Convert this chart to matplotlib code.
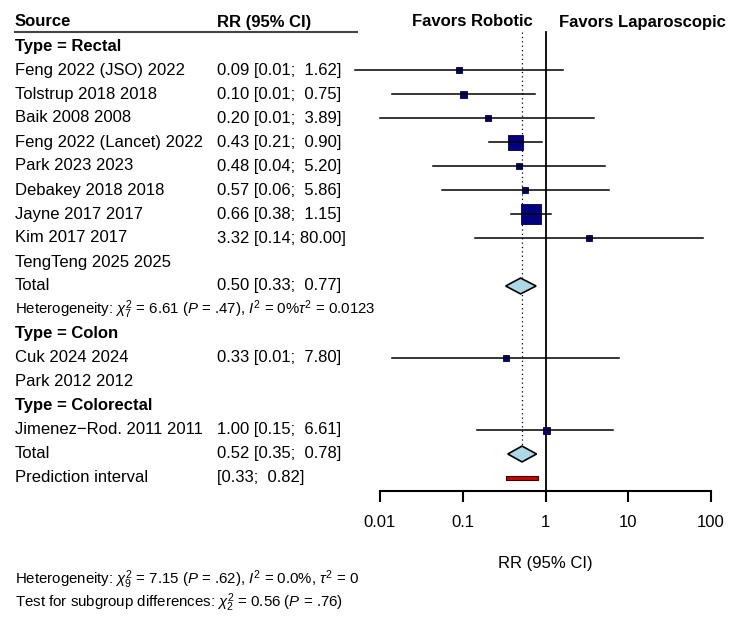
import numpy as np
import matplotlib
matplotlib.use("Agg")
import matplotlib.pyplot as plt
import matplotlib.transforms as mtransforms
from matplotlib.patches import Polygon, Rectangle

plt.rcParams['font.family'] = ['Liberation Sans', 'DejaVu Sans']
plt.rcParams['mathtext.fontset'] = 'custom'
plt.rcParams['mathtext.rm'] = 'Liberation Sans'
plt.rcParams['mathtext.it'] = 'Liberation Sans:italic'
plt.rcParams['mathtext.bf'] = 'Liberation Sans:bold'

# study data
studies = ["Feng 2022 (JSO) 2022", "Tolstrup 2018 2018", "Baik 2008 2008",
           "Feng 2022 (Lancet) 2022", "Park 2023 2023", "Debakey 2018 2018",
           "Jayne 2017 2017", "Kim 2017 2017", "TengTeng 2025 2025",
           "Cuk 2024 2024", "Park 2012 2012", "Jimenez\u2212Rod. 2011 2011"]
study_rows = [2, 3, 4, 5, 6, 7, 8, 9, 10, 14, 15, 17]
rr = [0.09, 0.10, 0.20, 0.43, 0.48, 0.57, 0.66, 3.32, np.nan, 0.33, np.nan, 1.00]
ci_lo = [0.005, 0.014, 0.010, 0.21, 0.044, 0.056, 0.38, 0.14, np.nan, 0.014, np.nan, 0.15]
ci_hi = [1.62, 0.75, 3.89, 0.90, 5.20, 5.86, 1.15, 80.0, np.nan, 7.80, np.nan, 6.61]
ci_text = ["0.09 [0.01;  1.62]", "0.10 [0.01;  0.75]", "0.20 [0.01;  3.89]",
           "0.43 [0.21;  0.90]", "0.48 [0.04;  5.20]", "0.57 [0.06;  5.86]",
           "0.66 [0.38;  1.15]", "3.32 [0.14; 80.00]", "",
           "0.33 [0.01;  7.80]", "", "1.00 [0.15;  6.61]"]
box_px = [5.5, 7, 5.5, 15, 6, 6.5, 20, 5.5, 0, 5.5, 0, 7]

# subgroup headers
groups = ["Type = Rectal", "Type = Colon", "Type = Colorectal"]
group_rows = [1, 13, 16]

# pooled estimates
pooled_labels = ["Total", "Total"]
pooled_rows = [11, 18]
pooled_est = [0.50, 0.52]
pooled_lo = [0.33, 0.35]
pooled_hi = [0.77, 0.78]
pooled_text = ["0.50 [0.33;  0.77]", "0.52 [0.35;  0.78]"]

pred_row = 19
pred_lo, pred_hi = 0.33, 0.82

xticks = [0.01, 0.1, 1, 10, 100]
xtick_labels = ["0.01", "0.1", "1", "10", "100"]

fig = plt.figure(figsize=(7.5, 6.24), dpi=100)
W, H = 750, 624
top_px, bot_px = 10, 491
ax = fig.add_axes([380 / W, 1 - bot_px / H, 331 / W, (bot_px - top_px) / H])
ax.set_xscale('log')
ax.set_xlim(0.01, 100)
ax.set_ylim((bot_px - 22) / 24, (top_px - 22) / 24)

for s in ['top', 'right', 'left']:
    ax.spines[s].set_visible(False)
ax.spines['bottom'].set_linewidth(1.5)
ax.set_yticks([])
ax.set_xticks(xticks)
ax.set_xticklabels(xtick_labels, fontsize=12)
ax.xaxis.set_minor_locator(matplotlib.ticker.NullLocator())
ax.tick_params(axis='x', direction='out', length=8, width=1.5, pad=9)
ax.set_xlabel("RR (95% CI)", fontsize=12, labelpad=19)

# reference lines
ax.plot([1, 1], [0.42, (bot_px - 22) / 24], color='black', lw=1.3, clip_on=False)
ax.plot([0.52, 0.52], [0.42, 17.65], color='black', lw=0.9, ls=(0, (1, 2.5)))

# studies
for r, y, lo, hi, b in zip(rr, study_rows, ci_lo, ci_hi, box_px):
    if np.isnan(r):
        continue
    ax.plot([r], [y], marker='s', ms=b * 0.72, color='#000080', mec='#000033',
            mew=0.6, zorder=3, clip_on=False)
    ax.plot([lo, hi], [y, y], color='black', lw=1.1, zorder=4, clip_on=False)

# pooled diamonds
for y, e, lo, hi in zip(pooled_rows, pooled_est, pooled_lo, pooled_hi):
    d = Polygon([[lo, y], [e, y - 0.33], [hi, y], [e, y + 0.33]], closed=True,
                facecolor='#ADD8E6', edgecolor='black', lw=1.2, zorder=5)
    ax.add_patch(d)

# prediction interval
ax.add_patch(Rectangle((pred_lo, pred_row - 0.09), pred_hi - pred_lo, 0.18,
                       facecolor='#CC0000', edgecolor='#330000', lw=0.8, zorder=5))

# text columns
tr = mtransforms.blended_transform_factory(fig.transFigure, ax.transData)
x1 = 15 / W
x2 = 217 / W
fs = 12
fig.text(x1, 0, "Source", transform=tr, fontsize=fs, fontweight='bold', va='center')
fig.text(x2, 0, "RR (95% CI)", transform=tr, fontsize=fs, fontweight='bold', va='center')
ax.plot([x1, 357 / W], [0.42, 0.42], transform=tr, color='#444444', lw=1.5, clip_on=False)

for g, y in zip(groups, group_rows):
    fig.text(x1, y, g, transform=tr, fontsize=fs, fontweight='bold', va='center')
for s, y, t in zip(studies, study_rows, ci_text):
    fig.text(x1, y, s, transform=tr, fontsize=fs, va='center')
    fig.text(x2, y, t, transform=tr, fontsize=fs, va='center')
for s, y, t in zip(pooled_labels, pooled_rows, pooled_text):
    fig.text(x1, y, s, transform=tr, fontsize=fs, va='center')
    fig.text(x2, y, t, transform=tr, fontsize=fs, va='center')
fig.text(x1, pred_row, "Prediction interval", transform=tr, fontsize=fs, va='center')
fig.text(x2, pred_row, "[0.33;  0.82]", transform=tr, fontsize=fs, va='center')

fig.text(x1, 12, r"Heterogeneity: $\chi^2_7$ = 6.61 ($P$ = .47), $I^2$ = 0%$\tau^2$ = 0.0123",
         transform=tr, fontsize=10.8, va='center')

# favours labels
ax.annotate("Favors Robotic", xy=(1, 0), xytext=(-9, 0), textcoords='offset points',
            ha='right', va='center', fontsize=12, fontweight='bold', annotation_clip=False)
ax.annotate("Favors Laparoscopic", xy=(1, 0), xytext=(9.5, 0), textcoords='offset points',
            ha='left', va='center', fontsize=12, fontweight='bold', annotation_clip=False)

# overall statistics
fig.text(x1, 1 - 580 / H, r"Heterogeneity: $\chi^2_9$ = 7.15 ($P$ = .62), $I^2$ = 0.0%, $\tau^2$ = 0",
         fontsize=10.8, va='center')
fig.text(x1, 1 - 603 / H, r"Test for subgroup differences: $\chi^2_2$ = 0.56 ($P$ = .76)",
         fontsize=10.8, va='center')

fig.savefig("out.png", dpi=100)
